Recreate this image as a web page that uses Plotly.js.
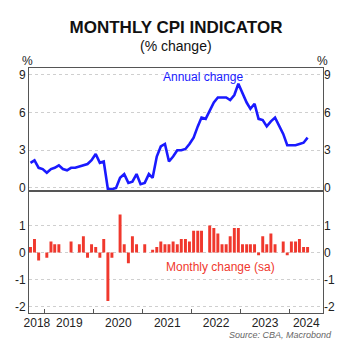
<!DOCTYPE html>
<html>
<head>
<meta charset="utf-8">
<script src="https://cdn.plot.ly/plotly-3.0.1.min.js"></script>
<style>
html,body{margin:0;padding:0;background:#fff;}
#chart{width:360px;height:345px;}
</style>
</head>
<body>
<div id="chart"></div>
<script>
// Months (Sep 2018 - May 2024)
var months = [
 '2018-09','2018-10','2018-11','2018-12',
 '2019-01','2019-02','2019-03','2019-04','2019-05','2019-06','2019-07','2019-08','2019-09','2019-10','2019-11','2019-12',
 '2020-01','2020-02','2020-03','2020-04','2020-05','2020-06','2020-07','2020-08','2020-09','2020-10','2020-11','2020-12',
 '2021-01','2021-02','2021-03','2021-04','2021-05','2021-06','2021-07','2021-08','2021-09','2021-10','2021-11','2021-12',
 '2022-01','2022-02','2022-03','2022-04','2022-05','2022-06','2022-07','2022-08','2022-09','2022-10','2022-11','2022-12',
 '2023-01','2023-02','2023-03','2023-04','2023-05','2023-06','2023-07','2023-08','2023-09','2023-10','2023-11','2023-12',
 '2024-01','2024-02','2024-03','2024-04','2024-05'
];
// Annual change (%)
var annualChange = [
 2.0,2.2,1.6,1.5,
 1.2,1.5,1.6,1.8,1.5,1.4,1.6,1.6,1.7,1.8,1.9,2.2,
 2.7,2.0,2.1,-0.1,-0.1,0.0,0.8,1.1,0.4,0.5,1.1,0.3,
 0.4,1.1,0.8,2.5,3.3,3.5,2.1,2.5,3.0,3.0,3.1,3.5,
 4.0,4.9,5.6,5.5,6.1,6.8,7.2,7.2,7.2,7.0,7.4,8.3,
 7.5,6.8,6.3,6.7,5.5,5.4,4.9,5.3,5.6,5.0,4.3,3.4,
 3.4,3.4,3.5,3.6,4.0
];
// Monthly change, seasonally adjusted (%)
var monthlyChange = [
 0.2,0.5,-0.3,0.0,
 -0.2,0.4,0.3,0.3,0.0,0.0,0.4,0.0,0.3,0.6,-0.2,0.3,
 0.2,-0.2,0.5,-1.8,-0.2,0.0,1.4,0.3,-0.4,0.6,0.3,0.0,
 0.3,0.0,0.1,0.2,0.4,0.3,0.3,0.4,0.3,0.5,0.5,0.4,
 0.8,0.8,0.8,0.0,1.0,0.9,0.7,0.3,0.3,0.6,0.9,0.9,
 0.3,0.3,0.3,0.3,-0.1,0.6,0.3,0.7,0.3,0.0,0.4,-0.1,
 0.4,0.4,0.5,0.2,0.2
];
var years = ['2018','2019','2020','2021','2022','2023','2024'];
var topTicks = [0, 3, 6, 9];
var topTickText = ['0', '3', '6', '9'];
var bottomTicks = [-2, -1, 0, 1];
var bottomTickText = ['-2', '-1', '0', '1'];

var xDates = months.map(function(m){ return m + '-15'; });
var FONT = 'Liberation Sans, Arial, sans-serif';
var BLUE = '#1a1aff';
var RED = '#f0382d';
var FRAME = '#555555';
var DAY = 86400000;

var xRange = ['2018-09-04', '2024-09-07'];
var r0 = Date.parse(xRange[0]), r1 = Date.parse(xRange[1]);
// year boundaries as minor ticks; year labels centred on the visible part of each year
var yearStarts = years.slice(1).map(function(y){ return y + '-01-01'; });
var yearLabelPos = years.map(function(y){
  var a = Math.max(Date.parse(y + '-01-01'), r0);
  var b = Math.min(Date.parse((+y + 1) + '-01-01'), r1);
  return new Date((a + b) / 2).toISOString().slice(0, 10);
});

var traces = [
  {x: xDates, y: annualChange, type: 'scatter', mode: 'lines', xaxis: 'x', yaxis: 'y',
   line: {color: BLUE, width: 2.6}, hoverinfo: 'skip', showlegend: false},
  {x: xDates, y: annualChange, type: 'scatter', mode: 'lines', xaxis: 'x', yaxis: 'y3',
   line: {color: 'rgba(0,0,0,0)', width: 0}, hoverinfo: 'skip', showlegend: false},
  {x: xDates, y: monthlyChange, type: 'bar', xaxis: 'x2', yaxis: 'y2',
   marker: {color: RED, line: {width: 0}}, width: 22 * DAY, hoverinfo: 'skip', showlegend: false},
  {x: xDates, y: monthlyChange, type: 'scatter', mode: 'lines', xaxis: 'x2', yaxis: 'y4',
   line: {color: 'rgba(0,0,0,0)', width: 0}, hoverinfo: 'skip', showlegend: false}
];

var topRange = [-0.18, 9.55];
var botRange = [-2.24, 2.23];
var tickFont = {family: FONT, size: 12, color: '#222'};

var baseX = {
  type: 'date', range: xRange, showgrid: false, zeroline: false,
  showline: true, mirror: true, linecolor: FRAME, linewidth: 1, tickfont: tickFont
};

var layout = {
  width: 360, height: 345,
  margin: {l: 29, r: 37.3, t: 68, b: 32.3},
  paper_bgcolor: '#fff', plot_bgcolor: '#fff',
  font: {family: FONT, color: '#222'},
  bargap: 0.25,
  title: {text: '<b>MONTHLY CPI INDICATOR</b>', font: {family: FONT, size: 17, color: '#111'},
          x: 0.5, xref: 'paper', xanchor: 'center', y: 1 - 27/345, yref: 'container', yanchor: 'middle'},
  xaxis: Object.assign({}, baseX, {anchor: 'y', showticklabels: false, ticks: ''}),
  xaxis2: Object.assign({}, baseX, {anchor: 'y2', matches: 'x',
    tickmode: 'array', tickvals: yearLabelPos, ticktext: years, ticks: '', ticklabelstandoff: -1,
    minor: {tickmode: 'array', tickvals: yearStarts, ticks: 'inside', ticklen: 4, tickcolor: FRAME, tickwidth: 1, showgrid: false}}),
  yaxis: {domain: [0.5014, 1], anchor: 'x', range: topRange, tickmode: 'array', tickvals: topTicks, ticktext: topTickText,
          showgrid: true, gridcolor: '#cfcfcf', griddash: 'dot', gridwidth: 1, zeroline: false,
          showline: true, mirror: true, linecolor: FRAME, linewidth: 1, ticks: '', tickfont: tickFont},
  yaxis3: {overlaying: 'y', side: 'right', anchor: 'x', range: topRange, tickmode: 'array', tickvals: topTicks, ticktext: topTickText,
           showgrid: false, zeroline: false, showline: false, ticks: '', tickfont: tickFont},
  yaxis2: {domain: [0, 0.4933], anchor: 'x2', range: botRange, tickmode: 'array', tickvals: bottomTicks, ticktext: bottomTickText,
           showgrid: true, gridcolor: '#cfcfcf', griddash: 'dot', gridwidth: 1, zeroline: false,
           showline: true, mirror: true, linecolor: FRAME, linewidth: 1, ticks: '', tickfont: tickFont},
  yaxis4: {overlaying: 'y2', side: 'right', anchor: 'x2', range: botRange, tickmode: 'array', tickvals: bottomTicks, ticktext: bottomTickText,
           showgrid: false, zeroline: false, showline: false, ticks: '', tickfont: tickFont},
  annotations: [
    {text: '(% change)', xref: 'paper', yref: 'paper', x: 0.5, y: 1.090, xanchor: 'center', yanchor: 'middle',
     showarrow: false, font: {family: FONT, size: 14, color: '#111'}},
    {text: '%', xref: 'paper', yref: 'paper', x: -0.005, y: 1.0286, xanchor: 'center', yanchor: 'middle',
     showarrow: false, font: {family: FONT, size: 12, color: '#222'}},
    {text: '%', xref: 'paper', yref: 'paper', x: 0.9966, y: 1.0286, xanchor: 'center', yanchor: 'middle',
     showarrow: false, font: {family: FONT, size: 12, color: '#222'}},
    {text: 'Annual change', xref: 'paper', yref: 'paper', x: 0.5907, y: 0.9632, xanchor: 'center', yanchor: 'middle',
     showarrow: false, font: {family: FONT, size: 12, color: BLUE}},
    {text: 'Monthly change (sa)', xref: 'paper', yref: 'paper', x: 0.6503, y: 0.188, xanchor: 'center', yanchor: 'middle',
     showarrow: false, font: {family: FONT, size: 12, color: RED}},
    {text: '<i>Source: CBA, Macrobond</i>', xref: 'paper', yref: 'paper', x: 1.0385, y: -0.089, xanchor: 'right', yanchor: 'middle',
     showarrow: false, font: {family: FONT, size: 9, color: '#666'}}
  ]
};

Plotly.newPlot('chart', traces, layout, {staticPlot: true, displayModeBar: false});
</script>
</body>
</html>
